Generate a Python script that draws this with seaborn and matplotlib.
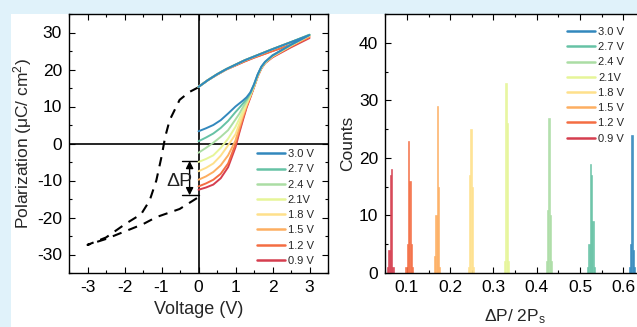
import numpy as np
import pandas as pd
import seaborn as sns
import matplotlib.pyplot as plt
from matplotlib.lines import Line2D
from matplotlib.patches import Rectangle
from matplotlib.ticker import MultipleLocator

# --- data -------------------------------------------------------------
LABELS = ["3.0 V", "2.7 V", "2.4 V", "2.1V", "1.8 V", "1.5 V", "1.2 V", "0.9 V"]
COLORS = ["#3288bd", "#66c2a5", "#abdda4", "#e6f598",
          "#fee08b", "#fdae61", "#f46d43", "#d53e4f"]

# rising branch of each minor loop (V from 0 to 3)
RISE_V = [0, 0.2, 0.4, 0.6, 0.8, 1.0, 1.1, 1.2, 1.3, 1.4, 1.5, 1.6, 1.7, 1.8, 2.0, 2.5, 3.0]
P_30 = [3.3, 4.1, 5.0, 6.3, 8.1, 10.0, 10.8, 11.6, 12.5, 13.8, 16.0, 18.7, 20.8, 22.1, 23.8, 26.7, 29.3]
P_27 = [0.6, 1.6, 2.7, 4.2, 6.1, 8.5, 9.6, 10.8, 12.0, 13.6, 15.9, 18.6, 20.7, 22.0, 23.8, 26.7, 29.4]
P_24 = [-2.5, -1.2, 0.2, 1.8, 3.6, 6.5, 8.0, 9.8, 11.5, 13.3, 15.7, 18.5, 20.6, 22.0, 23.7, 26.6, 29.4]
P_21 = [-5.0, -4.2, -3.2, -1.2, 1.3, 4.5, 6.6, 8.8, 11.0, 13.1, 15.6, 18.4, 20.6, 21.9, 23.7, 26.6, 29.3]
P_18 = [-7.5, -6.6, -5.4, -3.3, -0.5, 2.5, 5.2, 8.0, 10.6, 13.0, 15.5, 18.4, 20.5, 21.9, 23.6, 26.5, 29.2]
P_15 = [-9.8, -8.9, -7.7, -5.9, -3.2, 0.8, 4.2, 7.4, 10.3, 12.8, 15.4, 18.3, 20.5, 21.8, 23.5, 26.4, 29.0]
P_12 = [-11.6, -10.8, -9.8, -8.2, -5.4, -0.2, 3.4, 6.8, 10.0, 12.6, 15.3, 18.2, 20.4, 21.8, 23.4, 26.2, 28.8]
P_09 = [-12.5, -11.9, -11.1, -9.4, -6.4, -1.0, 2.8, 6.3, 9.7, 12.4, 15.2, 18.1, 20.3, 21.7, 23.3, 26.0, 28.5]
RISE_P = [P_30, P_27, P_24, P_21, P_18, P_15, P_12, P_09]

# returning (upper) branch, V from 3 back to 0
TOP_V = [3.0, 2.5, 2.0, 1.5, 1.25, 1.0, 0.75, 0.5, 0.25, 0.0]
TOP_P = [29.3, 27.4, 25.5, 23.5, 22.5, 21.3, 20.1, 18.7, 17.1, 15.3]
TOP_P_LOW = [28.5, 26.7, 25.0, 23.2, 22.2, 21.1, 20.0, 18.6, 17.1, 15.3]

# dashed negative part of the full loop
DASH_V = [0.0, -0.25, -0.51, -0.78, -0.9, -1.0, -1.14, -1.32, -1.55, -1.97, -2.5, -3.0,
          -2.5, -2.05, -1.5, -1.14, -0.51, 0.0]
DASH_P = [15.2, 13.9, 11.8, 6.3, 1.8, -3.6, -10.0, -15.4, -19.1, -21.7, -25.4, -27.4,
          -25.8, -24.0, -21.8, -19.9, -17.7, -14.5]

DP_X, DP_TOP, DP_BOT = -0.24, -4.7, -14.0

# histogram bins (centres) and counts for each voltage
H_30 = ([0.614, 0.617, 0.620, 0.623, 0.626], [1, 5, 24, 4, 1])
H_27 = ([0.518, 0.521, 0.524, 0.527, 0.530, 0.533], [1, 5, 19, 17, 9, 1])
H_24 = ([0.422, 0.425, 0.428, 0.431, 0.434], [2, 11, 27, 10, 2])
H_21 = ([0.326, 0.329, 0.332, 0.335], [2, 33, 26, 2])
H_18 = ([0.242, 0.245, 0.248, 0.251, 0.254], [1, 17, 25, 15, 1])
H_15 = ([0.164, 0.167, 0.170, 0.173, 0.176], [3, 10, 29, 15, 1])
H_12 = ([0.098, 0.101, 0.104, 0.107, 0.110, 0.113], [1, 5, 23, 16, 5, 1])
H_09 = ([0.056, 0.059, 0.062, 0.065, 0.068], [1, 4, 17, 18, 1])
HISTS = [H_30, H_27, H_24, H_21, H_18, H_15, H_12, H_09]

# --- style ------------------------------------------------------------
sns.set_theme(style="ticks")
plt.rcParams["font.family"] = ["Liberation Sans", "DejaVu Sans"]
plt.rcParams["axes.unicode_minus"] = False
plt.rcParams["mathtext.fontset"] = "custom"
plt.rcParams["mathtext.rm"] = "Liberation Sans"
plt.rcParams["mathtext.it"] = "Liberation Sans"

W, H = 637, 327
fig = plt.figure(figsize=(W / 100, H / 100), dpi=100, facecolor="#e0f2fa")
fig.patches.append(Rectangle((11 / W, 0), 1, 1 - 14 / H, transform=fig.transFigure,
                             facecolor="white", edgecolor="none", zorder=-5))

ax1 = fig.add_axes([69 / W, 54 / H, 259 / W, 259 / H])
ax2 = fig.add_axes([385.2 / W, 54 / H, 259.8 / W, 259 / H])

# --- left: P-V loops --------------------------------------------------
ax1.axhline(0, color="black", lw=1.2, zorder=1)
ax1.axvline(0, color="black", lw=1.2, zorder=1)

sns.lineplot(x=DASH_V, y=DASH_P, sort=False, estimator=None, color="black", lw=1.5,
             linestyle=(0, (4.5, 3.5)), ax=ax1)

for i in range(len(LABELS) - 1, -1, -1):
    top = TOP_P_LOW if i >= 6 else TOP_P
    top = [RISE_P[i][-1]] + top[1:]
    v = RISE_V + TOP_V
    p = RISE_P[i] + top
    sns.lineplot(x=v, y=p, sort=False, estimator=None, color=COLORS[i], lw=1.4,
                 ax=ax1, zorder=3)

# Delta P marker
ax1.plot([-0.44, 0], [DP_TOP, DP_TOP], color="black", lw=1)
ax1.plot([-0.44, 0], [DP_BOT, DP_BOT], color="black", lw=1)
ax1.annotate("", xy=(DP_X, DP_TOP), xytext=(DP_X, DP_BOT),
             arrowprops=dict(arrowstyle="<|-|>", color="black", lw=1,
                             mutation_scale=11, shrinkA=0, shrinkB=0))
ax1.text(-0.52, -10.4, "ΔP", fontsize=14, color="#222222", ha="center", va="center")

ax1.set_xlim(-3.5, 3.5)
ax1.set_ylim(-35, 35)
ax1.xaxis.set_major_locator(MultipleLocator(1))
ax1.xaxis.set_minor_locator(MultipleLocator(0.5))
ax1.yaxis.set_major_locator(MultipleLocator(10))
ax1.yaxis.set_minor_locator(MultipleLocator(5))
ax1.set_xlabel("Voltage (V)", fontsize=13, labelpad=4)
ax1.set_ylabel("Polarization (μC/ cm$^2$)", fontsize=12.5, labelpad=2)

handles = [Line2D([], [], color=c, lw=1.8) for c in COLORS]
ax1.legend(handles, LABELS, loc="upper left", bbox_to_anchor=(0.725, 0.478),
           frameon=False, fontsize=8, handlelength=2.5, handletextpad=0.3,
           labelspacing=0.47, borderpad=0, borderaxespad=0)

# --- right: histograms ------------------------------------------------
for lab, c, (xs, ns) in zip(LABELS, COLORS, HISTS):
    sns.histplot(x=xs, weights=ns, binwidth=0.003,
                 binrange=(xs[0] - 0.0015, xs[-1] + 0.0015),
                 element="bars", fill=True, color=c, alpha=0.9,
                 edgecolor=c, linewidth=0.4, ax=ax2)

ax2.set_xlim(0.05, 0.65)
ax2.set_ylim(0, 45)
ax2.xaxis.set_major_locator(MultipleLocator(0.1))
ax2.xaxis.set_minor_locator(MultipleLocator(0.05))
ax2.yaxis.set_major_locator(MultipleLocator(10))
ax2.yaxis.set_minor_locator(MultipleLocator(5))
ax2.set_xlabel("ΔP/ 2P$_\\mathrm{s}$", fontsize=12.5, labelpad=9)
ax2.set_ylabel("Counts", fontsize=12.5, labelpad=3)

ax2.legend(handles, LABELS, loc="upper left", bbox_to_anchor=(0.70, 0.95),
           frameon=False, fontsize=8, handlelength=2.5, handletextpad=0.3,
           labelspacing=0.47, borderpad=0, borderaxespad=0)

for ax in (ax1, ax2):
    for s in ax.spines.values():
        s.set_linewidth(1.0)
        s.set_color("black")
    ax.tick_params(which="both", direction="in", top=True, right=True,
                   colors="black", width=0.8, labelsize=12.5, pad=5)
    ax.tick_params(which="major", length=4.5)
    ax.tick_params(which="minor", length=2.5)

fig.savefig("out.png", dpi=100, facecolor=fig.get_facecolor())
